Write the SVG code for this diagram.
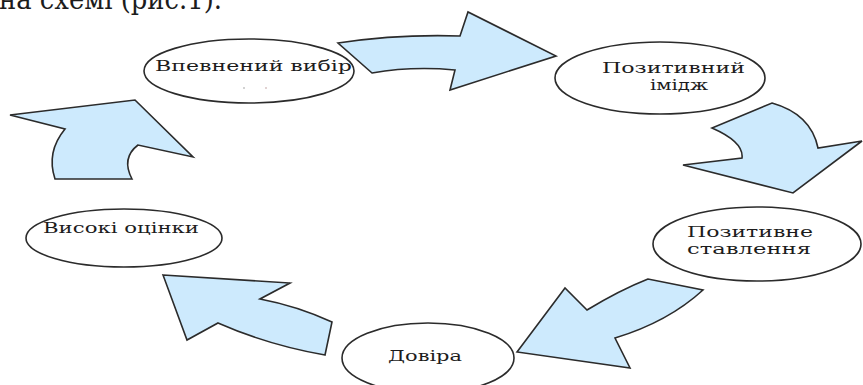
<svg xmlns="http://www.w3.org/2000/svg" width="863" height="385" viewBox="0 0 863 385">
<style>
.node ellipse{fill:#fff;stroke:#2b2b2b;stroke-width:1.6}
.arr{fill:#cdeafd;stroke:#2b2b2b;stroke-width:1.6;stroke-linejoin:miter}
.t{fill:#1c1c1c;font-family:"DejaVu Serif","Liberation Serif",serif}
.lbl{font-size:15px}
</style>
<rect width="863" height="385" fill="#fff"/>
<text class="t" x="-1" y="9" font-size="28" textLength="223" lengthAdjust="spacingAndGlyphs">на схемі (рис.1).</text>
<g id="connectors">
<path class="arr" d="M338,43 Q398,34 460,36 L468,12 L556,56 L450,90 L455,70 Q412,66 372,73 Z"/>
<path class="arr" d="M772,103 Q811,114 818,148 L862,141 L793,193 L683,165 L742,158 Q744,142 712,128 Z"/>
<path class="arr" d="M517,352 L565,288 L587,310 Q620,290 648,279 L703,290 Q668,322 615,338 L630,368 Z"/>
<path class="arr" d="M163,275 L290,283 L260,299 Q297,306 332,322 L325,355 Q268,345 218,323 L187,340 Z"/>
<path class="arr" d="M10,115 L135,100 L193,157 L138,145 Q121,158 132,179 L55,179 Q46,152 65,129 Z"/>
</g>
<g id="node-vpevnenyi" class="node">
<ellipse cx="249" cy="71" rx="105" ry="32"/>
<text class="t lbl" x="155" y="71" textLength="197" lengthAdjust="spacingAndGlyphs">Впевнений вибір</text>
<circle cx="244" cy="88" r="0.8" fill="#999"/>
<circle cx="266" cy="88" r="0.8" fill="#b99"/>
</g>
<g id="node-imidzh" class="node">
<ellipse cx="660" cy="78" rx="105" ry="36"/>
<text class="t lbl" x="602" y="73" textLength="143" lengthAdjust="spacingAndGlyphs">Позитивний</text>
<text class="t lbl" x="650" y="90" textLength="58" lengthAdjust="spacingAndGlyphs">імідж</text>
</g>
<g id="node-stavlennia" class="node">
<ellipse cx="757" cy="244" rx="104" ry="37"/>
<text class="t lbl" x="687" y="237" textLength="126" lengthAdjust="spacingAndGlyphs">Позитивне</text>
<text class="t lbl" x="687" y="254" textLength="124" lengthAdjust="spacingAndGlyphs">ставлення</text>
</g>
<g id="node-dovira" class="node">
<ellipse cx="428" cy="358" rx="86" ry="35"/>
<text class="t lbl" x="388" y="361" textLength="74" lengthAdjust="spacingAndGlyphs">Довіра</text>
</g>
<g id="node-otsinky" class="node">
<ellipse cx="124" cy="238" rx="98" ry="29"/>
<text class="t lbl" x="43" y="233" textLength="156" lengthAdjust="spacingAndGlyphs">Високі оцінки</text>
</g>
</svg>
